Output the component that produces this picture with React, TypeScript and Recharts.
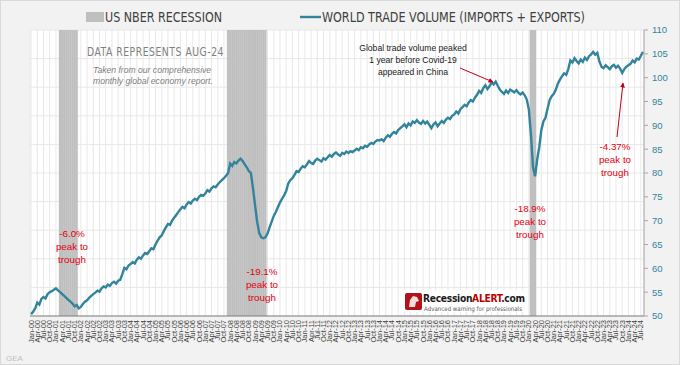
import React from "react";
import { ComposedChart, Bar, Line, XAxis, YAxis, CartesianGrid } from "recharts";

const MONTHS = ["Jan", "Feb", "Mar", "Apr", "May", "Jun", "Jul", "Aug", "Sep", "Oct", "Nov", "Dec"];
const START_YEAR = 2000;

// monthly world trade volume index, Jan-00 .. Aug-24
const tradeVolume = [
  50.4, 50.9, 51.6, 52.8, 52.4, 53.6, 54.0, 53.7, 54.6, 55.0, 55.2, 55.5, // 2000
  55.8, 55.4, 55.0, 54.6, 54.2, 53.8, 53.4, 53.0, 52.6, 52.0, 52.3, 51.6, // 2001
  51.9, 52.5, 53.0, 53.3, 53.8, 54.2, 54.6, 54.9, 55.3, 55.1, 55.8, 56.2, // 2002
  56.0, 56.6, 56.3, 56.9, 57.2, 56.8, 57.4, 57.6, 58.8, 60.1, 59.8, 60.6, // 2003
  60.9, 61.3, 61.0, 61.8, 62.3, 62.0, 62.7, 63.2, 63.0, 63.6, 64.2, 64.0, // 2004
  65.0, 65.8, 66.5, 66.9, 67.8, 68.6, 69.3, 69.1, 70.0, 70.6, 71.2, 71.8, // 2005
  72.4, 72.9, 72.6, 73.4, 73.9, 73.6, 74.2, 74.6, 74.3, 75.0, 75.4, 75.2, // 2006
  75.7, 76.4, 76.1, 76.8, 77.2, 77.0, 77.6, 78.1, 78.5, 78.9, 79.4, 80.0, // 2007
  82.0, 81.5, 82.3, 82.0, 82.6, 83.0, 82.5, 81.8, 81.2, 80.4, 80.0, 76.8, // 2008
  73.2, 69.8, 67.4, 66.5, 66.3, 66.5, 67.3, 68.6, 69.8, 71.0, 71.8, 72.8, // 2009
  73.8, 74.6, 75.3, 76.2, 77.8, 78.5, 78.9, 79.6, 80.4, 80.2, 80.9, 81.4, // 2010
  81.2, 81.8, 82.5, 82.1, 81.9, 82.6, 83.0, 82.7, 82.4, 83.1, 82.8, 83.3, // 2011
  83.8, 83.4, 84.0, 84.3, 83.9, 83.6, 84.2, 84.0, 84.5, 84.2, 84.6, 84.4, // 2012
  84.7, 85.1, 84.8, 85.4, 85.2, 85.7, 85.5, 86.0, 86.3, 86.1, 86.6, 86.9, // 2013
  86.8, 87.1, 86.7, 87.4, 87.9, 87.6, 88.2, 88.6, 88.3, 89.0, 89.4, 89.8, // 2014
  90.2, 89.6, 90.4, 90.0, 90.8, 90.5, 91.1, 90.6, 90.3, 90.9, 90.4, 90.8, // 2015
  90.1, 89.4, 90.2, 90.6, 89.8, 90.4, 90.9, 90.5, 91.2, 91.6, 91.3, 92.0, // 2016
  92.3, 92.9, 92.5, 93.4, 93.8, 94.3, 94.0, 94.8, 95.3, 95.0, 95.8, 96.4, // 2017
  97.2, 96.8, 97.8, 98.4, 97.6, 98.2, 99.0, 98.6, 99.2, 98.3, 97.5, 97.0, // 2018
  96.6, 97.3, 96.8, 97.5, 97.2, 96.9, 97.4, 96.8, 96.5, 96.9, 96.3, 95.4, // 2019
  93.3, 88.0, 81.2, 79.3, 82.8, 85.4, 89.0, 90.8, 91.6, 93.5, 95.3, 96.1, // 2020
  96.6, 97.5, 98.8, 99.6, 100.3, 100.9, 100.6, 101.8, 103.6, 103.2, 104.1, 103.5, // 2021
  103.0, 103.8, 103.3, 104.2, 103.7, 104.5, 104.9, 105.4, 104.8, 105.2, 103.4, 102.3, // 2022
  102.0, 102.6, 102.2, 101.8, 102.4, 102.7, 102.1, 102.5, 101.9, 101.0, 101.8, 102.3, // 2023
  102.6, 102.9, 103.6, 103.2, 104.0, 103.8, 104.6, 105.4, // 2024
];

const recessions = [
  ["Mar-01", "Nov-01"],
  ["Dec-07", "Jun-09"],
  ["Feb-20", "Apr-20"],
];

const yTicks = [50, 55, 60, 65, 70, 75, 80, 85, 90, 95, 100, 105, 110];
const gridValues = [50, 53, 56, 59, 62, 65, 68, 71, 74, 77, 80, 83, 86, 89, 92, 95, 98, 101, 104, 107, 110];

const labels = tradeVolume.map(
  (_, i) => `${MONTHS[i % 12]}-${String((START_YEAR + Math.floor(i / 12)) % 100).padStart(2, "0")}`
);
const recIndex = recessions.map(([a, b]) => [labels.indexOf(a), labels.indexOf(b)]);
const data = tradeVolume.map((v, i) => ({
  label: labels[i],
  value: v,
  rec: recIndex.some(([a, b]) => i >= a && i <= b) ? 110 : null,
}));

const TEAL = "#31849b";
const RED = "#e3000f";
const SANS = "'Liberation Sans', Arial, sans-serif";
const NARROW = "'Liberation Sans Narrow', 'DejaVu Sans Condensed', 'Arial Narrow', sans-serif";

const MonthTick = (props: any) => {
  const { x, y, payload } = props;
  return (
    <text
      x={x}
      y={y + 2}
      transform={`rotate(-90 ${x} ${y + 2})`}
      textAnchor="end"
      dominantBaseline="central"
      fontSize={7.5}
      fill="#404040"
      fontFamily={SANS}
    >
      {payload.value}
    </text>
  );
};

const RedNote = ({ x, y, lines }: { x: number; y: number; lines: string[] }) => (
  <text x={x} y={y} textAnchor="middle" fontSize={9.8} fill={RED} fontFamily={SANS}>
    {lines.map((l, i) => (
      <tspan key={i} x={x} dy={i === 0 ? 0 : 13}>
        {l}
      </tspan>
    ))}
  </text>
);

export default function App() {
  return (
    <div
      style={{
        position: "absolute",
        left: 0,
        top: 0,
        width: 680,
        height: 365,
        background: "#f2f2f2",
        boxShadow: "inset 0 0 0 1px #d9d9d9",
      }}
    >
      <ComposedChart
        width={680}
        height={365}
        data={data}
        margin={{ top: 30, right: 0, left: 30, bottom: 9 }}
        barCategoryGap={0}
        barGap={0}
      >
        <CartesianGrid fill="#ffffff" stroke="#e8e8e8" horizontalValues={gridValues} />
        <XAxis
          dataKey="label"
          interval={2}
          height={40}
          tickLine={false}
          tickSize={0}
          axisLine={{ stroke: "#7f7f7f" }}
          tick={<MonthTick />}
        />
        <YAxis
          orientation="right"
          domain={[50, 110]}
          ticks={yTicks}
          width={36}
          tickSize={4}
          tickMargin={4}
          axisLine={{ stroke: "#a6a6a6" }}
          tickLine={{ stroke: "#a6a6a6" }}
          tick={{ fill: TEAL, fontSize: 9.5, fontFamily: SANS }}
          allowDataOverflow
        />
        <YAxis
          yAxisId="left"
          orientation="left"
          domain={[50, 110]}
          width={0}
          tick={false}
          tickLine={false}
          axisLine={{ stroke: "#a6a6a6" }}
        />
        <Bar dataKey="rec" fill="#bfbfbf" stroke="#bfbfbf" strokeWidth={0.4} isAnimationActive={false} />
        <Line
          dataKey="value"
          type="linear"
          stroke={TEAL}
          strokeWidth={2.4}
          dot={false}
          isAnimationActive={false}
        />
      </ComposedChart>

      <svg
        width={680}
        height={365}
        style={{ position: "absolute", left: 0, top: 0, pointerEvents: "none" }}
      >
        <defs>
          <marker id="arrow" viewBox="0 0 10 10" refX="9" refY="5" markerWidth="5" markerHeight="5" orient="auto">
            <path d="M0,0 L10,5 L0,10 z" fill="#c0001a" />
          </marker>
        </defs>

        {/* legend */}
        <rect x={86} y={12} width={18} height={10} fill="#bfbfbf" />
        <text x={105} y={22} fontSize={14} fill="#404040" fontFamily={NARROW} textLength={117} lengthAdjust="spacingAndGlyphs">
          US NBER RECESSION
        </text>
        <line x1={300} y1={17} x2={321} y2={17} stroke={TEAL} strokeWidth={2.4} />
        <text x={322} y={22} fontSize={14} fill="#404040" fontFamily={NARROW} textLength={263} lengthAdjust="spacingAndGlyphs">
          WORLD TRADE VOLUME (IMPORTS + EXPORTS)
        </text>

        {/* data note */}
        <text x={87} y={56} fontSize={11.5} fill="#808080" fontFamily={NARROW} letterSpacing={0.6} textLength={137} lengthAdjust="spacingAndGlyphs">
          DATA REPRESENTS AUG-24
        </text>
        <text x={93} y={73} fontSize={8.6} fontStyle="italic" fill="#808080" fontFamily={SANS}>
          Taken from our comprehensive
        </text>
        <text x={93} y={84} fontSize={8.6} fontStyle="italic" fill="#808080" fontFamily={SANS}>
          monthly global economy report.
        </text>

        {/* covid note */}
        <text x={413} y={51} textAnchor="middle" fontSize={8.6} fill="#1a1a1a" fontFamily={SANS}>
          <tspan x={413} dy={0}>Global trade volume peaked</tspan>
          <tspan x={413} dy={12}>1 year before Covid-19</tspan>
          <tspan x={413} dy={12}>appeared in China</tspan>
        </text>
        <line x1={460} y1={68} x2={493} y2={82} stroke="#c0001a" strokeWidth={1} markerEnd="url(#arrow)" />
        <line x1={617} y1={137} x2={623} y2={83} stroke="#c0001a" strokeWidth={1} markerEnd="url(#arrow)" />

        <RedNote x={72} y={237} lines={["-6.0%", "peak to", "trough"]} />
        <RedNote x={262} y={275} lines={["-19.1%", "peak to", "trough"]} />
        <RedNote x={530} y={212} lines={["-18.9%", "peak to", "trough"]} />
        <RedNote x={615} y={150} lines={["-4.37%", "peak to", "trough"]} />

        {/* logo */}
        <rect x={403} y={290} width={122} height={22} fill="#ffffff" />
        <rect x={405} y={293} width={17} height={17} rx={2} fill="#b3121b" />
        <path d="M409,307 L410,300 L413,296 L417,297 L419,301 L416,302 L415,307 z" fill="#ffffff" opacity={0.85} />
        <text x={423} y={302} fontSize={10.2} fontWeight="bold" letterSpacing={-0.3} fill="#1a1a1a" fontFamily={NARROW}>
          Recession<tspan fill="#c00000">ALERT</tspan>.com
        </text>
        <text x={424} y={310.5} fontSize={6.3} fill="#595959" fontFamily={NARROW} textLength={98} lengthAdjust="spacingAndGlyphs">
          Advanced warning for professionals
        </text>

        <text x={6} y={361} fontSize={8} fill="#bfbfbf" fontFamily={SANS}>
          GEA
        </text>
      </svg>
    </div>
  );
}
